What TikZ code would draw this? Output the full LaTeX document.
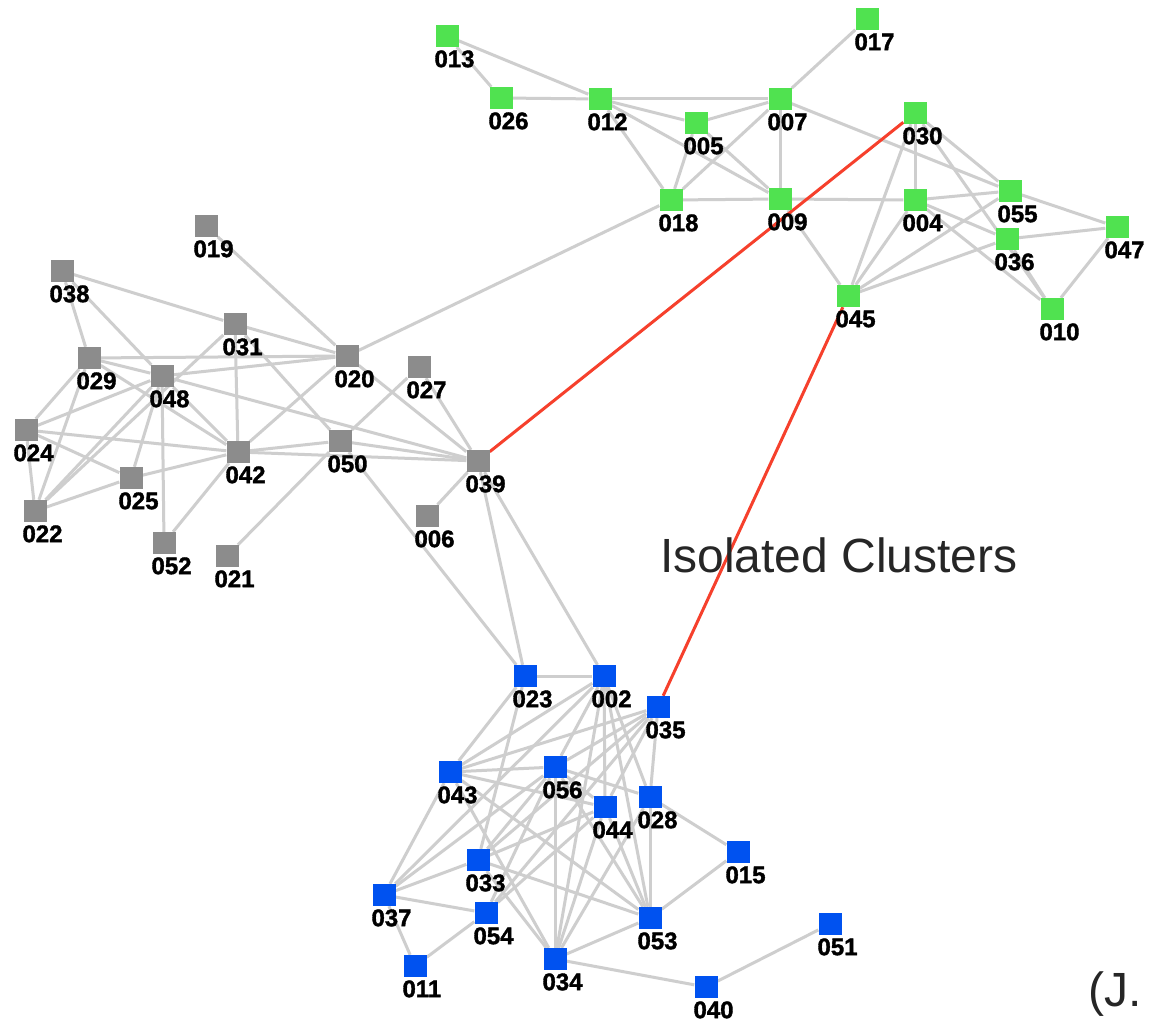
\documentclass[tikz,border=0pt]{standalone}
\usepackage{fontspec}
\newfontfamily\labfont{Liberation Sans}
\newfontfamily\numfont{Liberation Sans}[BoldFeatures={FakeBold=1.5}]
\usetikzlibrary{backgrounds}

\begin{document}
\begin{tikzpicture}[
  x=1pt, y=-1pt,
  sq/.style={rectangle, inner sep=0pt, minimum width=23pt, minimum height=22pt},
  gsq/.style={sq, fill=clgreen},
  ksq/.style={sq, fill=clgray},
  bsq/.style={sq, fill=clblue},
  lab/.style={anchor=north west, inner sep=0pt, xshift=-1pt, yshift=-3pt,
    font=\numfont\bfseries\fontsize{24}{24}\selectfont},
  edge/.style={draw=edgegray, line width=3pt},
  hot/.style={draw=hotred, line width=3pt},
]
\definecolor{clgreen}{RGB}{80,226,80}
\definecolor{clgray}{RGB}{140,140,140}
\definecolor{clblue}{RGB}{0,82,240}
\definecolor{edgegray}{RGB}{206,206,206}
\definecolor{hotred}{RGB}{246,64,44}

\useasboundingbox (0,0) rectangle (1149,1024);

% green cluster
\node [gsq] (n013) at (447,36) {};
\node [lab] (l013) at (n013.south west) {013};
\node [gsq] (n017) at (867,19) {};
\node [lab] (l017) at (n017.south west) {017};
\node [gsq] (n026) at (501,98) {};
\node [lab] (l026) at (n026.south west) {026};
\node [gsq] (n012) at (600,99) {};
\node [lab] (l012) at (n012.south west) {012};
\node [gsq] (n005) at (696,123) {};
\node [lab] (l005) at (n005.south west) {005};
\node [gsq] (n007) at (780,99) {};
\node [lab] (l007) at (n007.south west) {007};
\node [gsq] (n030) at (915,113) {};
\node [lab] (l030) at (n030.south west) {030};
\node [gsq] (n018) at (671,200) {};
\node [lab] (l018) at (n018.south west) {018};
\node [gsq] (n009) at (780,199) {};
\node [lab] (l009) at (n009.south west) {009};
\node [gsq] (n004) at (915,200) {};
\node [lab] (l004) at (n004.south west) {004};
\node [gsq] (n055) at (1010,191) {};
\node [lab] (l055) at (n055.south west) {055};
\node [gsq] (n036) at (1007,239) {};
\node [lab] (l036) at (n036.south west) {036};
\node [gsq] (n047) at (1117,227) {};
\node [lab] (l047) at (n047.south west) {047};
\node [gsq] (n045) at (848,296) {};
\node [lab] (l045) at (n045.south west) {045};
\node [gsq] (n010) at (1052,309) {};
\node [lab] (l010) at (n010.south west) {010};

% gray cluster
\node [ksq] (n019) at (206,226) {};
\node [lab] (l019) at (n019.south west) {019};
\node [ksq] (n038) at (62,271) {};
\node [lab] (l038) at (n038.south west) {038};
\node [ksq] (n031) at (235,324) {};
\node [lab] (l031) at (n031.south west) {031};
\node [ksq] (n029) at (89,358) {};
\node [lab] (l029) at (n029.south west) {029};
\node [ksq] (n048) at (162,376) {};
\node [lab] (l048) at (n048.south west) {048};
\node [ksq] (n020) at (347,356) {};
\node [lab] (l020) at (n020.south west) {020};
\node [ksq] (n027) at (419,367) {};
\node [lab] (l027) at (n027.south west) {027};
\node [ksq] (n024) at (26,430) {};
\node [lab] (l024) at (n024.south west) {024};
\node [ksq] (n042) at (238,452) {};
\node [lab] (l042) at (n042.south west) {042};
\node [ksq] (n050) at (340,441) {};
\node [lab] (l050) at (n050.south west) {050};
\node [ksq] (n039) at (478,461) {};
\node [lab] (l039) at (n039.south west) {039};
\node [ksq] (n025) at (131,478) {};
\node [lab] (l025) at (n025.south west) {025};
\node [ksq] (n022) at (35,511) {};
\node [lab] (l022) at (n022.south west) {022};
\node [ksq] (n006) at (427,516) {};
\node [lab] (l006) at (n006.south west) {006};
\node [ksq] (n052) at (164,543) {};
\node [lab] (l052) at (n052.south west) {052};
\node [ksq] (n021) at (227,556) {};
\node [lab] (l021) at (n021.south west) {021};

% blue cluster
\node [bsq] (n023) at (525,676) {};
\node [lab] (l023) at (n023.south west) {023};
\node [bsq] (n002) at (604,676) {};
\node [lab] (l002) at (n002.south west) {002};
\node [bsq] (n035) at (658,707) {};
\node [lab] (l035) at (n035.south west) {035};
\node [bsq] (n043) at (450,772) {};
\node [lab] (l043) at (n043.south west) {043};
\node [bsq] (n056) at (555,767) {};
\node [lab] (l056) at (n056.south west) {056};
\node [bsq] (n044) at (605,807) {};
\node [lab] (l044) at (n044.south west) {044};
\node [bsq] (n028) at (650,797) {};
\node [lab] (l028) at (n028.south west) {028};
\node [bsq] (n015) at (738,852) {};
\node [lab] (l015) at (n015.south west) {015};
\node [bsq] (n033) at (478,860) {};
\node [lab] (l033) at (n033.south west) {033};
\node [bsq] (n037) at (384,895) {};
\node [lab] (l037) at (n037.south west) {037};
\node [bsq] (n054) at (486,913) {};
\node [lab] (l054) at (n054.south west) {054};
\node [bsq] (n053) at (650,918) {};
\node [lab] (l053) at (n053.south west) {053};
\node [bsq] (n051) at (830,924) {};
\node [lab] (l051) at (n051.south west) {051};
\node [bsq] (n011) at (415,966) {};
\node [lab] (l011) at (n011.south west) {011};
\node [bsq] (n034) at (555,959) {};
\node [lab] (l034) at (n034.south west) {034};
\node [bsq] (n040) at (706,987) {};
\node [lab] (l040) at (n040.south west) {040};

\node [anchor=base west, inner sep=0pt, text=black!85,
  font=\labfont\fontsize{48}{48}\selectfont] (title) at (660,572) {Isolated Clusters};
\node [anchor=base west, inner sep=0pt, text=black!85,
  font=\labfont\fontsize{48}{48}\selectfont] (cite) at (1088,1006) {(J.};

\begin{pgfonlayer}{background}
\fill [white] (0,0) rectangle (1149,1024);

\draw [edge] (n013) -- (n026);
\draw [edge] (n013) -- (n012);
\draw [edge] (n026) -- (n012);
\draw [edge] (n012) -- (n007);
\draw [edge] (n012) -- (n005);
\draw [edge] (n012) -- (n009);
\draw [edge] (n012) -- (n018);
\draw [edge] (n005) -- (n007);
\draw [edge] (n005) -- (n018);
\draw [edge] (n005) -- (n009);
\draw [edge] (n018) -- (n007);
\draw [edge] (n018) -- (n009);
\draw [edge] (n007) -- (n009);
\draw [edge] (n007) -- (n017);
\draw [edge] (n007) -- (n055);
\draw [edge] (n009) -- (n004);
\draw [edge] (n009) -- (n045);
\draw [edge] (n030) -- (n004);
\draw [edge] (n030) -- (n045);
\draw [edge] (n030) -- (n055);
\draw [edge] (n030) -- (n010);
\draw [edge] (n004) -- (n055);
\draw [edge] (n004) -- (n045);
\draw [edge] (n004) -- (n036);
\draw [edge] (n004) -- (n010);
\draw [edge] (n045) -- (n055);
\draw [edge] (n045) -- (n036);
\draw [edge] (n055) -- (n047);
\draw [edge] (n036) -- (n047);
\draw [edge] (n036) -- (n010);
\draw [edge] (n047) -- (n010);

\draw [edge] (n019) -- (n020);
\draw [edge] (n038) -- (n031);
\draw [edge] (n038) -- (n029);
\draw [edge] (n038) -- (n048);
\draw [edge] (n031) -- (n020);
\draw [edge] (n031) -- (n042);
\draw [edge] (n031) -- (n050);
\draw [edge] (n031) -- (n022);
\draw [edge] (n029) -- (n020);
\draw [edge] (n029) -- (n048);
\draw [edge] (n029) -- (n024);
\draw [edge] (n029) -- (n022);
\draw [edge] (n029) -- (n042);
\draw [edge] (n048) -- (n020);
\draw [edge] (n048) -- (n042);
\draw [edge] (n048) -- (n025);
\draw [edge] (n048) -- (n052);
\draw [edge] (n048) -- (n024);
\draw [edge] (n048) -- (n022);
\draw [edge] (n048) -- (n039);
\draw [edge] (n024) -- (n042);
\draw [edge] (n024) -- (n025);
\draw [edge] (n024) -- (n022);
\draw [edge] (n025) -- (n022);
\draw [edge] (n025) -- (n042);
\draw [edge] (n042) -- (n020);
\draw [edge] (n042) -- (n050);
\draw [edge] (n042) -- (n039);
\draw [edge] (n042) -- (n052);
\draw [edge] (n021) -- (n050);
\draw [edge] (n020) -- (n039);
\draw [edge] (n027) -- (n050);
\draw [edge] (n027) -- (n039);
\draw [edge] (n050) -- (n039);
\draw [edge] (n006) -- (n039);
\draw [edge] (n020) -- (n018);

\draw [edge] (n050) -- (n023);
\draw [edge] (n039) -- (n023);
\draw [edge] (n039) -- (n002);

\draw [edge] (n023) -- (n002);
\draw [edge] (n023) -- (n043);
\draw [edge] (n023) -- (n033);
\draw [edge] (n002) -- (n043);
\draw [edge] (n002) -- (n056);
\draw [edge] (n002) -- (n044);
\draw [edge] (n002) -- (n028);
\draw [edge] (n002) -- (n053);
\draw [edge] (n002) -- (n034);
\draw [edge] (n002) -- (n037);
\draw [edge] (n035) -- (n043);
\draw [edge] (n035) -- (n056);
\draw [edge] (n035) -- (n044);
\draw [edge] (n035) -- (n033);
\draw [edge] (n035) -- (n028);
\draw [edge] (n035) -- (n054);
\draw [edge] (n043) -- (n056);
\draw [edge] (n043) -- (n044);
\draw [edge] (n043) -- (n037);
\draw [edge] (n043) -- (n053);
\draw [edge] (n043) -- (n034);
\draw [edge] (n056) -- (n034);
\draw [edge] (n056) -- (n044);
\draw [edge] (n056) -- (n028);
\draw [edge] (n056) -- (n053);
\draw [edge] (n056) -- (n033);
\draw [edge] (n056) -- (n037);
\draw [edge] (n056) -- (n054);
\draw [edge] (n044) -- (n034);
\draw [edge] (n044) -- (n033);
\draw [edge] (n044) -- (n054);
\draw [edge] (n044) -- (n053);
\draw [edge] (n028) -- (n053);
\draw [edge] (n028) -- (n015);
\draw [edge] (n028) -- (n034);
\draw [edge] (n033) -- (n037);
\draw [edge] (n033) -- (n053);
\draw [edge] (n033) -- (n034);
\draw [edge] (n037) -- (n054);
\draw [edge] (n037) -- (n011);
\draw [edge] (n054) -- (n011);
\draw [edge] (n034) -- (n053);
\draw [edge] (n034) -- (n040);
\draw [edge] (n053) -- (n015);
\draw [edge] (n040) -- (n051);

\draw [hot] (n030) -- (n039);
\draw [hot] (n045) -- (n035);
\end{pgfonlayer}

\end{tikzpicture}
\end{document}
